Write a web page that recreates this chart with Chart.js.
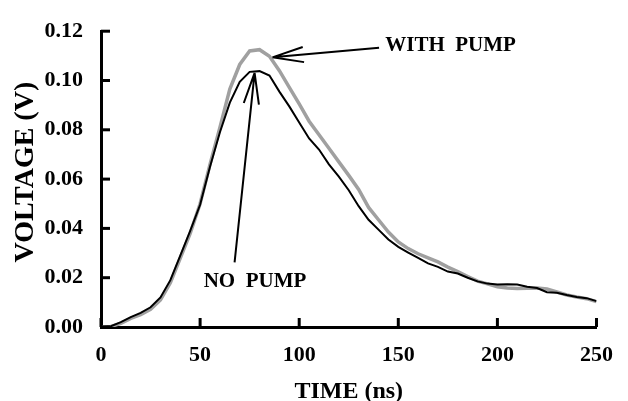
<!DOCTYPE html>
<html>
<head>
<meta charset="utf-8">
<script src="https://cdn.jsdelivr.net/npm/chart.js@4.4.1/dist/chart.umd.min.js"></script>
<style>
  body { margin: 0; background: #fff; }
  canvas { display: block; }
</style>
</head>
<body>
<canvas id="myChart" width="628" height="401"></canvas>
<script>
// time axis (ns), one reading every 5 ns
const timeNs = [
  0, 5, 10, 15, 20, 25, 30, 35, 40, 45,
  50, 55, 60, 65, 70, 75, 80, 85, 90, 95,
  100, 105, 110, 115, 120, 125, 130, 135, 140, 145,
  150, 155, 160, 165, 170, 175, 180, 185, 190, 195,
  200, 205, 210, 215, 220, 225, 230, 235, 240, 245, 250
];

// voltage without pump (black trace)
const noPump = [
  0, 0.0003, 0.002, 0.004, 0.0057, 0.008, 0.012, 0.019, 0.029, 0.039,
  0.0496, 0.065, 0.079, 0.091, 0.0995, 0.1035, 0.1038, 0.102, 0.0955, 0.0895,
  0.083, 0.0765, 0.072, 0.066, 0.061, 0.0555, 0.049, 0.0435, 0.0395, 0.0355,
  0.0325, 0.0302, 0.028, 0.0258, 0.0244, 0.0225, 0.0217, 0.02, 0.0185, 0.0176,
  0.0172, 0.0173, 0.0172, 0.0163, 0.0158, 0.0141, 0.0139, 0.013, 0.0122, 0.0117, 0.0105
];

// voltage with pump (grey trace)
const withPump = [
  0, 0.0002, 0.0015, 0.0035, 0.005, 0.0072, 0.011, 0.018, 0.028, 0.038,
  0.05, 0.066, 0.081, 0.0965, 0.1065, 0.112, 0.1125, 0.1098, 0.104, 0.0972,
  0.0905, 0.0835, 0.078, 0.0725, 0.067, 0.0615, 0.0558, 0.0485, 0.0435, 0.0385,
  0.0345, 0.0318, 0.0297, 0.028, 0.0264, 0.0243, 0.0225, 0.0205, 0.0186, 0.0175,
  0.0163, 0.0158, 0.0156, 0.0157, 0.0158, 0.0154, 0.0142, 0.013, 0.0122, 0.0115, 0.0103
];

const xTicks = [0, 50, 100, 150, 200, 250];
const yTicks = [0, 0.02, 0.04, 0.06, 0.08, 0.10, 0.12];

// labels with arrows, in data units: [text x, text y, tail x, tail y, tip x, tip y]
const withPumpNote = ["WITH  PUMP", 143.4, 0.1141, 140.3, 0.1133, 86.5, 0.1094];
const noPumpNote = ["NO  PUMP", 51.8, 0.0184, 67.4, 0.0262, 77.5, 0.1031];

const serif = "'Liberation Serif', 'Times New Roman', serif";

const toPoints = (vals) => timeNs.map((t, i) => ({ x: t, y: vals[i] }));

// ticks pointing into the plot + the two arrow labels
const extras = {
  id: "extras",
  afterDraw(chart) {
    const ctx = chart.ctx;
    const xs = chart.scales.x;
    const ys = chart.scales.y;
    const area = chart.chartArea;
    ctx.save();
    ctx.strokeStyle = "#000";
    ctx.lineWidth = 3;
    xTicks.forEach((t) => {
      const px = xs.getPixelForValue(t);
      ctx.beginPath();
      ctx.moveTo(px, area.bottom);
      ctx.lineTo(px, area.bottom - 9);
      ctx.stroke();
    });
    yTicks.forEach((v) => {
      const py = ys.getPixelForValue(v);
      ctx.beginPath();
      ctx.moveTo(area.left, py);
      ctx.lineTo(area.left + 9, py);
      ctx.stroke();
    });

    const drawNote = (note) => {
      const tx = xs.getPixelForValue(note[1]);
      const ty = ys.getPixelForValue(note[2]);
      const ax = xs.getPixelForValue(note[3]);
      const ay = ys.getPixelForValue(note[4]);
      const bx = xs.getPixelForValue(note[5]);
      const by = ys.getPixelForValue(note[6]);
      ctx.lineWidth = 2;
      ctx.beginPath();
      ctx.moveTo(ax, ay);
      ctx.lineTo(bx, by);
      const ang = Math.atan2(ay - by, ax - bx);
      [-0.24, 0.24].forEach((d) => {
        ctx.moveTo(bx, by);
        ctx.lineTo(bx + 32 * Math.cos(ang + d), by + 32 * Math.sin(ang + d));
      });
      ctx.stroke();
      ctx.fillStyle = "#000";
      ctx.font = "bold 21px " + serif;
      ctx.textAlign = "left";
      ctx.textBaseline = "middle";
      ctx.fillText(note[0], tx, ty);
    };
    drawNote(withPumpNote);
    drawNote(noPumpNote);
    ctx.restore();
  },
};

const ctx = document.getElementById("myChart").getContext("2d");

const myChart = new Chart(ctx, {
  type: "line",
  data: {
    datasets: [
      {
        label: "NO PUMP",
        data: toPoints(noPump),
        borderColor: "#000",
        borderWidth: 2,
        pointRadius: 0,
        tension: 0,
      },
      {
        label: "WITH PUMP",
        data: toPoints(withPump),
        borderColor: "#a0a0a0",
        borderWidth: 3.5,
        pointRadius: 0,
        tension: 0,
      },
    ],
  },
  options: {
    responsive: false,
    animation: false,
    devicePixelRatio: 1,
    layout: { padding: { top: 20, right: 30, left: 0, bottom: 0 } },
    plugins: {
      legend: { display: false },
      tooltip: { enabled: false },
    },
    scales: {
      x: {
        type: "linear",
        min: 0,
        max: 250,
        afterFit: (scale) => { scale.height = 74; },
        afterBuildTicks: (scale) => { scale.ticks = xTicks.map((v) => ({ value: v })); },
        grid: { display: false, drawTicks: false },
        border: { display: true, color: "#000", width: 3 },
        ticks: {
          color: "#000",
          padding: 15,
          maxRotation: 0,
          font: { family: serif, size: 22, weight: "bold" },
        },
        title: {
          display: true,
          text: "TIME (ns)",
          color: "#000",
          padding: { top: 0, bottom: 0 },
          font: { family: serif, size: 24, weight: "bold", lineHeight: 0.8 },
        },
      },
      y: {
        type: "linear",
        min: 0,
        max: 0.12,
        afterFit: (scale) => { scale.width = 101; },
        afterBuildTicks: (scale) => { scale.ticks = yTicks.map((v) => ({ value: v })); },
        grid: { display: false, drawTicks: false },
        border: { display: true, color: "#000", width: 3 },
        ticks: {
          color: "#000",
          padding: 18,
          font: { family: serif, size: 22, weight: "bold" },
          callback: (v) => Number(v).toFixed(2),
        },
        title: {
          display: true,
          text: "  VOLTAGE (V)",
          color: "#000",
          padding: { top: 12, bottom: 0 },
          font: { family: serif, size: 28, weight: "bold", lineHeight: 1 },
        },
      },
    },
  },
  plugins: [extras],
});
</script>
</body>
</html>
